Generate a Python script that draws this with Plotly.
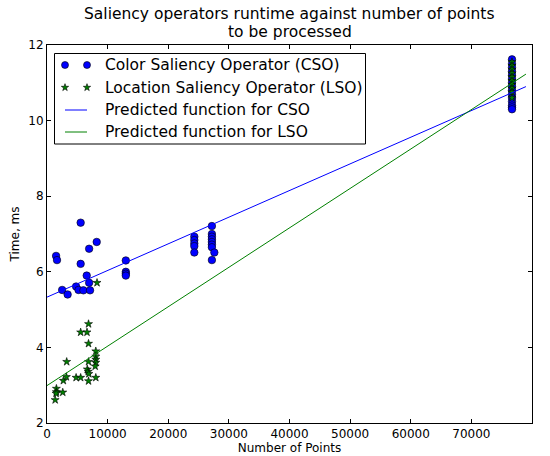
import plotly.graph_objects as go
import numpy as np

# ---- data ----
cso_x = [1500, 1650, 2500, 3400, 4800, 5200, 5550, 5550, 6000, 6550, 6950, 6950, 7100, 8200,
         13000, 13000, 13000, 13000,
         24300, 24300, 24300, 24300, 24300,
         27200, 27200, 27200, 27200, 27200, 27200, 27200, 27600, 27200,
         76700, 76700, 76700, 76700, 76700, 76700, 76700, 76700, 76700, 76700, 76700, 76700,
         76700, 76700, 76700]
cso_y = [6.42, 6.31, 5.52, 5.40, 5.61, 5.52, 7.30, 6.21, 5.51, 5.90, 6.61, 5.71, 5.51, 6.79,
         6.30, 6.00, 5.95, 5.90,
         6.93, 6.84, 6.75, 6.68, 6.51,
         7.21, 7.00, 6.93, 6.86, 6.79, 6.72, 6.65, 6.51, 6.31,
         11.62, 11.50, 11.40, 11.30, 11.20, 11.10, 11.00, 10.90, 10.80, 10.70, 10.60, 10.50,
         10.40, 10.35, 10.30]

lso_x = [1550, 1550, 1500, 1350, 2700, 2600, 3250, 3200, 4800, 5550, 5550, 6600,
         6850, 6850, 6850, 6650, 6800, 6900, 6850,
         8050, 8050, 8050, 8050, 7950, 8050, 8250,
         76700, 76700, 76700, 76700, 76700, 76700, 76700, 76700, 76700, 76700]
lso_y = [2.91, 2.82, 2.78, 2.61, 3.12, 2.81, 3.62, 3.22, 3.20, 4.40, 3.20, 4.40,
         4.62, 4.10, 3.62, 3.42, 3.36, 3.30, 3.11,
         3.90, 3.76, 3.68, 3.60, 3.50, 3.20, 5.71,
         11.55, 11.45, 11.35, 11.25, 11.15, 11.05, 10.95, 10.85, 10.75, 10.60]

# fitted line coefficients (intercept, slope)
cso_fit = (5.33, 7.05e-5)
lso_fit = (2.99, 1.043e-4)
fit_x = [0, 79000]

x_ticks = [0, 10000, 20000, 30000, 40000, 50000, 60000, 70000, 80000]
y_ticks = [2, 4, 6, 8, 10, 12]

series_names = ["Color Saliency Operator (CSO)", "Location Saliency Operator (LSO)",
                "Predicted function for CSO", "Predicted function for LSO"]
title_lines = ["Saliency operators runtime against number of points", "to be processed"]

FONT = "DejaVu Sans"
BLUE = "#0000ff"
GREEN = "#008000"

# ---- layout geometry (pixels) ----
W, H = 550, 456
L, R, T, B = 47, 18, 45, 33
PW, PH = W - L - R, H - T - B


def px(x):
    return (x - L) / PW


def py(y):
    return (H - B - y) / PH


fig = go.Figure()
fig.add_trace(go.Scatter(
    x=cso_x, y=cso_y, mode="markers", name=series_names[0], showlegend=False,
    marker=dict(symbol="circle", size=7.5, color=BLUE, line=dict(color="black", width=0.6)),
))
fig.add_trace(go.Scatter(
    x=lso_x, y=lso_y, mode="markers", name=series_names[1], showlegend=False,
    marker=dict(symbol="star", size=6, color=GREEN, line=dict(color="black", width=0.6)),
))
fx = np.array(fit_x, dtype=float)
fig.add_trace(go.Scatter(
    x=fx, y=cso_fit[0] + cso_fit[1] * fx, mode="lines", name=series_names[2], showlegend=False,
    line=dict(color=BLUE, width=1),
))
fig.add_trace(go.Scatter(
    x=fx, y=lso_fit[0] + lso_fit[1] * fx, mode="lines", name=series_names[3], showlegend=False,
    line=dict(color=GREEN, width=1),
))

# ---- manual matplotlib-style legend (two sample markers per entry) ----
leg_left, leg_right, leg_top, leg_bot = 54.5, 365.5, 53.5, 144
row_y = [65, 87.5, 110, 132]
sample_x = [65, 87]
text_x = 103

shapes = [dict(type="rect", xref="paper", yref="paper",
               x0=px(leg_left), x1=px(leg_right), y0=py(leg_bot), y1=py(leg_top),
               line=dict(color="black", width=1), fillcolor="white", layer="below")]

# legend samples drawn on an overlay axis in pixel units
fig.add_trace(go.Scatter(
    x=sample_x, y=[row_y[0]] * 2, xaxis="x2", yaxis="y2", mode="markers", showlegend=False,
    hoverinfo="skip",
    marker=dict(symbol="circle", size=7, color=BLUE, line=dict(color="black", width=0.6)),
))
fig.add_trace(go.Scatter(
    x=sample_x, y=[row_y[1]] * 2, xaxis="x2", yaxis="y2", mode="markers", showlegend=False,
    hoverinfo="skip",
    marker=dict(symbol="star", size=5.5, color=GREEN, line=dict(color="black", width=0.6)),
))
for ry, col in zip(row_y[2:], [BLUE, GREEN]):
    fig.add_trace(go.Scatter(
        x=sample_x, y=[ry] * 2, xaxis="x2", yaxis="y2", mode="lines", showlegend=False,
        hoverinfo="skip", line=dict(color=col, width=1),
    ))

annotations = []
for name, ry in zip(series_names, row_y):
    annotations.append(dict(text=name, xref="paper", yref="paper", x=px(text_x), y=py(ry),
                            xanchor="left", yanchor="middle", showarrow=False,
                            font=dict(family=FONT, size=15.5, color="black")))
for line, ty in zip(title_lines, [14, 32]):
    annotations.append(dict(text=line, xref="paper", yref="paper", x=0.5, y=py(ty),
                            xanchor="center", yanchor="middle", showarrow=False,
                            font=dict(family=FONT, size=15.5, color="black")))

axis_common = dict(
    showgrid=False, zeroline=False, showline=True, linecolor="black", linewidth=1,
    mirror="ticks", ticks="inside", ticklen=4, tickwidth=1, tickcolor="black",
    tickfont=dict(family=FONT, size=12, color="black"), automargin=False,
)

fig.update_layout(
    width=W, height=H,
    margin=dict(l=L, r=R, t=T, b=B),
    paper_bgcolor="white", plot_bgcolor="white",
    font=dict(family=FONT, color="black"),
    xaxis=dict(range=[0, 80000], tickvals=x_ticks, ticktext=[str(v) for v in x_ticks],
               title=dict(text="Number of Points", font=dict(family=FONT, size=12), standoff=0),
               **axis_common),
    yaxis=dict(range=[2, 12], tickvals=y_ticks, ticktext=[str(v) for v in y_ticks],
               title=dict(text="Time, ms", font=dict(family=FONT, size=12), standoff=6),
               **axis_common),
    xaxis2=dict(range=[L, W - R], overlaying="x", visible=False, fixedrange=True),
    yaxis2=dict(range=[H - B, T], overlaying="y", visible=False, fixedrange=True),
    shapes=shapes,
    annotations=annotations,
    showlegend=False,
)

fig.write_html("out.html")
